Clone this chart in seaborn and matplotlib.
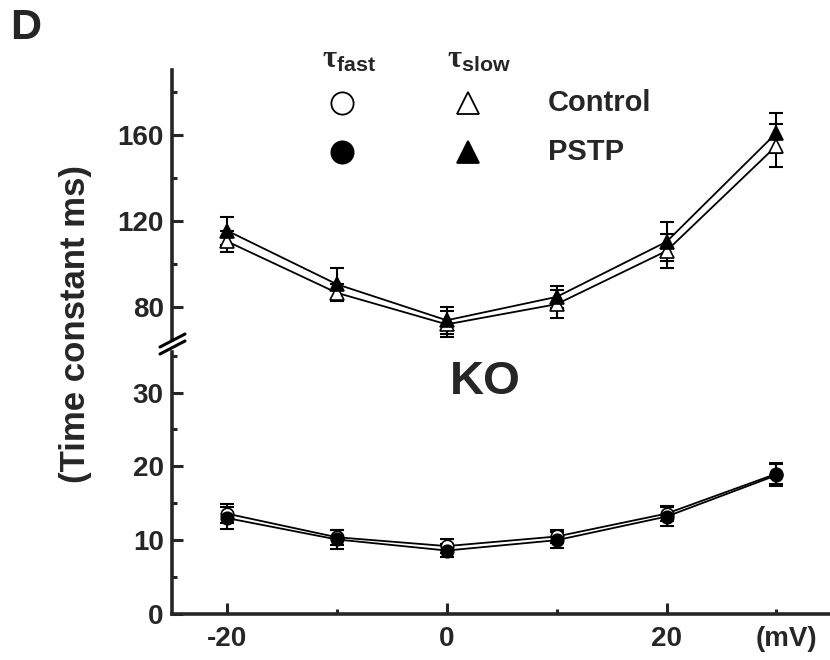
import numpy as np
import pandas as pd
import seaborn as sns
import matplotlib.pyplot as plt
import matplotlib.lines as mlines

sns.set_style("ticks")
plt.rcParams['font.family'] = ['Liberation Sans', 'DejaVu Sans']
plt.rcParams['font.weight'] = 'bold'
plt.rcParams['mathtext.fontset'] = 'custom'
plt.rcParams['mathtext.rm'] = 'Liberation Serif'
plt.rcParams['mathtext.bf'] = 'Liberation Sans:bold'
plt.rcParams['mathtext.it'] = 'Liberation Serif'

# membrane potential (mV)
voltage = [-20, -10, 0, 10, 20, 30]

# tau slow (ms), mean and error
slow_control = [110.5, 86.5, 71.8, 81.2, 106.0, 155.0]
slow_control_err = [5.0, 4.0, 6.0, 6.5, 8.0, 10.0]
slow_pstp = [115.5, 90.5, 73.7, 84.6, 110.3, 161.0]
slow_pstp_err = [6.5, 7.5, 6.3, 5.0, 9.0, 9.5]

# tau fast (ms), mean and error
fast_control = [13.6, 10.4, 9.2, 10.5, 13.6, 19.0]
fast_control_err = [1.3, 1.0, 0.9, 0.9, 1.0, 1.4]
fast_pstp = [13.0, 10.1, 8.6, 10.0, 13.2, 18.8]
fast_pstp_err = [1.5, 1.3, 0.9, 1.1, 1.3, 1.5]

df = pd.DataFrame({
    'mV': voltage,
    'slow_control': slow_control, 'slow_control_err': slow_control_err,
    'slow_pstp': slow_pstp, 'slow_pstp_err': slow_pstp_err,
    'fast_control': fast_control, 'fast_control_err': fast_control_err,
    'fast_pstp': fast_pstp, 'fast_pstp_err': fast_pstp_err,
})

fig = plt.figure(figsize=(8.3, 6.6), dpi=100)
ax_top = fig.add_axes([0.2072, 0.4848, 0.7918, 0.4091])
ax_bot = fig.add_axes([0.2072, 0.0697, 0.7918, 0.3970])

spine_w = 2.6

def draw(ax, col, marker, filled, ms):
    ax.errorbar(df['mV'], df[col], yerr=df[col + '_err'], fmt='none',
                ecolor='black', elinewidth=1.5, capsize=4.8, capthick=1.5, zorder=2)
    sns.lineplot(data=df, x='mV', y=col, ax=ax, color='black', lw=1.3,
                 marker=marker, markersize=ms, markeredgecolor='black',
                 markeredgewidth=1.2,
                 markerfacecolor='black' if filled else 'white', zorder=3)

draw(ax_top, 'slow_control', '^', False, 10)
draw(ax_top, 'slow_pstp', '^', True, 10)
draw(ax_bot, 'fast_control', 'o', False, 9)
draw(ax_bot, 'fast_pstp', 'o', True, 9)

for ax in (ax_top, ax_bot):
    ax.set_xlim(-25, 34.8)
    ax.set_xlabel('')
    ax.set_ylabel('')
    for s in ('top', 'right'):
        ax.spines[s].set_visible(False)
    for s in ('left', 'bottom'):
        ax.spines[s].set_linewidth(spine_w)
    ax.tick_params(which='major', direction='in', length=8, width=2.2,
                   labelsize=20, pad=6)
    ax.tick_params(which='minor', direction='in', length=3.5, width=2.2,
                   labelsize=20, pad=6)

ax_top.set_ylim(64.5, 190.3)
ax_top.spines['bottom'].set_visible(False)
ax_top.set_yticks([80, 120, 160])
ax_top.set_yticks([100, 140, 180], minor=True)
ax_top.set_yticklabels(['80', '120', '160'], fontweight='bold')
ax_top.set_xticks([])
ax_top.set_xticks([], minor=True)

ax_bot.set_ylim(0, 35.5)
ax_bot.set_yticks([0, 10, 20, 30])
ax_bot.set_yticks([5, 15, 25, 35], minor=True)
ax_bot.set_yticklabels(['0', '10', '20', '30'], fontweight='bold')
ax_bot.set_xticks([-20, 0, 20])
ax_bot.set_xticklabels(['-20', '0', '20'], fontweight='bold')
ax_bot.set_xticks([-10, 10, 30], minor=True)
ax_bot.tick_params(axis='x', which='both', pad=9)
ax_bot.annotate('(mV)', xy=(30, 0), xycoords=('data', 'axes fraction'),
                xytext=(7, -9), textcoords='offset points', ha='center',
                va='top', fontsize=20, fontweight='bold')

# axis break marks
W, H = 830.0, 660.0
for (x0, y0, x1, y1) in [(160, 347, 185, 334), (160, 354, 185, 341)]:
    fig.add_artist(mlines.Line2D([x0 / W, x1 / W], [1 - y0 / H, 1 - y1 / H],
                                 color='black', lw=2.2))

# labels
fig.text(75 / W, 1 - 324 / H, '(Time constant ms)', rotation=90, fontsize=25,
         fontweight='bold', ha='center', va='center')
fig.text(10 / W, 1 - 28 / H, 'D', fontsize=31, fontweight='bold',
         ha='left', va='center')
fig.text(485 / W, 1 - 382 / H, 'KO', fontsize=34, fontweight='bold',
         ha='center', va='center')

# legend
fig.text(322 / W, 1 - 68 / H, r'$\mathrm{\tau}_{\mathbf{fast}}$', fontsize=22,
         ha='left', va='baseline')
fig.text(447 / W, 1 - 68 / H, r'$\mathrm{\tau}_{\mathbf{slow}}$', fontsize=22,
         ha='left', va='baseline')
legend_rows = [('Control', 103, 'white'), ('PSTP', 152, 'black')]
for name, ypx, fc in legend_rows:
    for xpx, m in [(342, 'o'), (468, '^')]:
        fig.add_artist(mlines.Line2D([xpx / W], [1 - ypx / H], marker=m,
                                     markersize=16, markerfacecolor=fc,
                                     markeredgecolor='black', markeredgewidth=1.3,
                                     linestyle='none'))
    fig.text(548 / W, 1 - ypx / H, name, fontsize=21, fontweight='bold',
             ha='left', va='center')

fig.savefig('out.png', dpi=100)
